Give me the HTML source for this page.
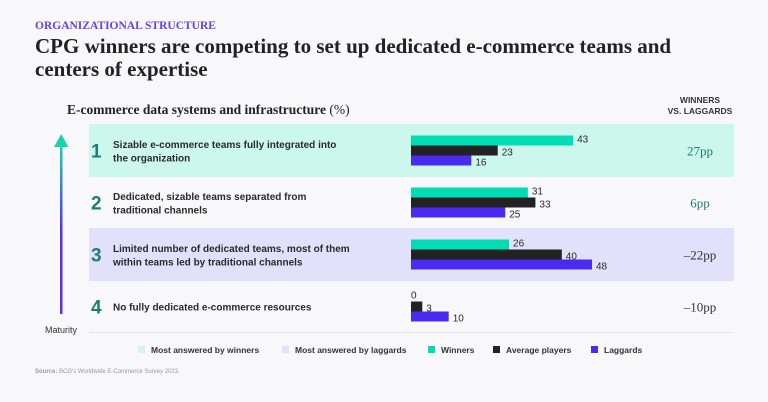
<!DOCTYPE html>
<html><head><meta charset="utf-8"><style>
body{margin:0;background:#f8f8fb;width:768px;height:402px;overflow:hidden;font-family:"Liberation Sans",sans-serif}
svg{display:block}
</style></head><body>
<svg id="c" width="768" height="402" xmlns="http://www.w3.org/2000/svg">
<defs><linearGradient id="ag" x1="0" y1="0" x2="0" y2="1"><stop offset="0" stop-color="#19d3b0"/><stop offset="1" stop-color="#5a2ff0"/></linearGradient></defs>
<text x="35" y="29" font-size="11.5" fill="#6441e6" font-family="Liberation Serif,serif" font-weight="bold">ORGANIZATIONAL STRUCTURE</text>
<text x="35" y="53" font-size="21" fill="#222" font-family="Liberation Serif,serif" font-weight="bold">CPG winners are competing to set up dedicated e-commerce teams and</text>
<text x="35" y="76" font-size="21" fill="#222" font-family="Liberation Serif,serif" font-weight="bold">centers of expertise</text>
<text x="67" y="114" font-size="13.5" fill="#222" font-family="Liberation Serif,serif" font-weight="bold">E-commerce data systems and infrastructure <tspan font-weight="normal">(%)</tspan></text>
<text x="700" y="103" font-size="8.5" fill="#333" font-weight="bold" text-anchor="middle">WINNERS</text>
<text x="700" y="114" font-size="8.5" fill="#333" font-weight="bold" text-anchor="middle">VS. LAGGARDS</text>
<rect x="60" y="145" width="2.5" height="84" fill="url(#ag)"/>
<rect x="60" y="228" width="2.5" height="86" fill="#5a2ff0"/>
<polygon points="54,147 61.2,134 68.5,147" fill="#19d3b0"/>
<text x="61" y="333" font-size="9" fill="#333" text-anchor="middle">Maturity</text>
<g id="rows"></g>
<line x1="89" y1="332.5" x2="734" y2="332.5" stroke="#e4e4ea" stroke-width="1"/>
<g id="legend"></g>
<text x="35" y="373" font-size="6" fill="#999"><tspan font-weight="bold">Source:</tspan> BCG's Worldwide E-Commerce Survey 2023.</text>
</svg>
<script>
const categories=["Sizable e-commerce teams fully integrated into|the organization","Dedicated, sizable teams separated from|traditional channels","Limited number of dedicated teams, most of them|within teams led by traditional channels","No fully dedicated e-commerce resources"];
const winners=[43,31,26,0];
const average=[23,33,40,3];
const laggards=[16,25,48,10];
const diffs=["27pp","6pp","\u201322pp","\u201310pp"];
const highlight=["w","","l",""];
const NS="http://www.w3.org/2000/svg";
function mk(t,a,p){const e=document.createElementNS(NS,t);for(const k in a)e.setAttribute(k,a[k]);p.appendChild(e);return e;}
const x0=411,sc=3.77;const xs=v=>v*sc;
const rowTop=[124,177,228,281],rowH=[53,51,53,51];
const g=document.getElementById('rows');
categories.forEach((c,i)=>{
 const y=rowTop[i],h=rowH[i],cy=y+h/2;
 if(highlight[i]){const r=mk('rect',{x:89,y:y,width:645,height:h,fill:highlight[i]=='w'?'#ccf7ec':'#e2e1fb'},g);
 
 }
 const n=mk('text',{x:91,y:cy+7,'font-size':19,fill:'#1d7e6e','font-weight':'bold'},g);n.textContent=i+1;
 
 
 const ls=c.split('|');
 ls.forEach((l,j)=>{const t=mk('text',{x:113,y:cy+4+(j-(ls.length-1)/2)*13.5,'font-size':10,fill:'#2a2a2a','font-weight':'bold'},g);t.textContent=l;
 
 });
 const series=[[winners,'#00dcb4','winners'],[average,'#222222','average'],[laggards,'#4a2af0','laggards']];
 series.forEach((s,k)=>{const v=s[0][i],by=cy-15+k*10;
  const b=mk('rect',{x:x0,y:by,width:xs(v),height:10,fill:s[1]},g);
  
  
  const t=mk('text',{x:v==0?x0:x0+xs(v)+4,y:v==0?by+7:by+(k==0?7:10),'font-size':10,fill:'#2a2a2a'},g);t.textContent=v;
  
  });
 const d=mk('text',{x:700,y:cy+5,'font-size':13,'text-anchor':'middle',fill:i<2?'#1d7e6e':'#333','font-family':'Liberation Serif,serif'},g);d.textContent=diffs[i];
 
 
});
const lg=document.getElementById('legend');
[["Most answered by winners","#ccf7ec",138],["Most answered by laggards","#e2e1fb",282],["Winners","#00dcb4",428],["Average players","#222",493],["Laggards","#4a2af0",591]].forEach((e,i)=>{
 const r=mk('rect',{x:e[2],y:346,width:7,height:7,fill:e[1]},lg);
 
 
 const t=mk('text',{x:e[2]+13,y:353,'font-size':8.5,fill:'#333','font-weight':'bold'},lg);t.textContent=e[0];
 
 
});
</script>
</body></html>
